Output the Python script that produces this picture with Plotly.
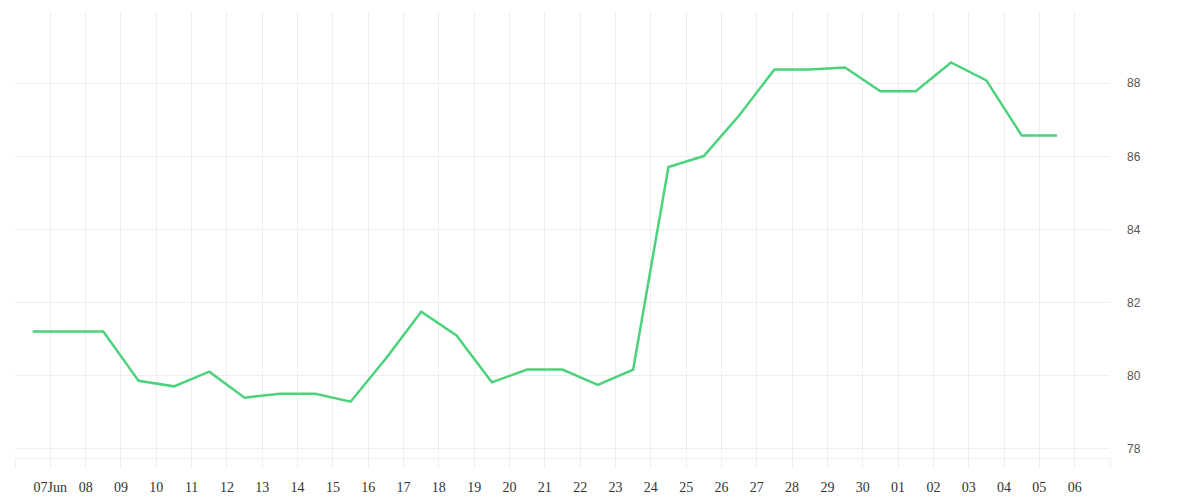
import pandas as pd
import plotly.graph_objects as go

# daily values (plotted at noon of each day)
dates = pd.date_range('2023-06-06 12:00', '2023-07-05 12:00', freq='D')
values = [81.21, 81.21, 81.21, 79.86, 79.71, 80.11, 79.40, 79.51, 79.51, 79.29,
          80.47, 81.75, 81.10, 79.82, 80.17, 80.17, 79.75, 80.17, 85.71, 86.01,
          87.12, 88.38, 88.38, 88.43, 87.78, 87.78, 88.57, 88.08, 86.57, 86.57]

# x ticks / labels (one per day, gridline at midnight)
tick_days = pd.date_range('2023-06-06', '2023-07-07', freq='D')
tick_labels = [''] + ['07Jun'] + [d.strftime('%d') for d in tick_days[2:-1]] + ['']

y_ticks = [78, 80, 82, 84, 86, 88]

fig = go.Figure()
fig.add_trace(go.Scatter(
    x=dates,
    y=values,
    mode='lines',
    line=dict(color='#4cd27d', width=2.5),
    hoverinfo='x+y'
))

# page body has an 8px margin, so the margins below are shifted to compensate
fig.update_layout(
    width=1200, height=500,
    paper_bgcolor='white',
    plot_bgcolor='white',
    showlegend=False,
    margin=dict(l=7, r=98, t=4, b=50),
    xaxis=dict(
        type='date',
        range=['2023-06-06', '2023-07-07'],
        tickvals=tick_days,
        ticktext=tick_labels,
        showgrid=True,
        gridcolor='#eeeeee',
        gridwidth=1,
        ticks='outside',
        ticklen=9,
        tickcolor='#eeeeee',
        showline=True,
        linecolor='#eeeeee',
        zeroline=False,
        ticklabelstandoff=7,
        tickfont=dict(family='Liberation Serif', size=14, color='#333333'),
    ),
    yaxis=dict(
        side='right',
        range=[77.75, 89.95],
        tickvals=y_ticks,
        showgrid=True,
        gridcolor='#eeeeee',
        gridwidth=1,
        zeroline=False,
        showline=False,
        ticks='',
        ticklabelstandoff=16,
        tickfont=dict(family='Liberation Sans', size=12, color='#555555'),
    ),
)

fig.write_html('out.html')
